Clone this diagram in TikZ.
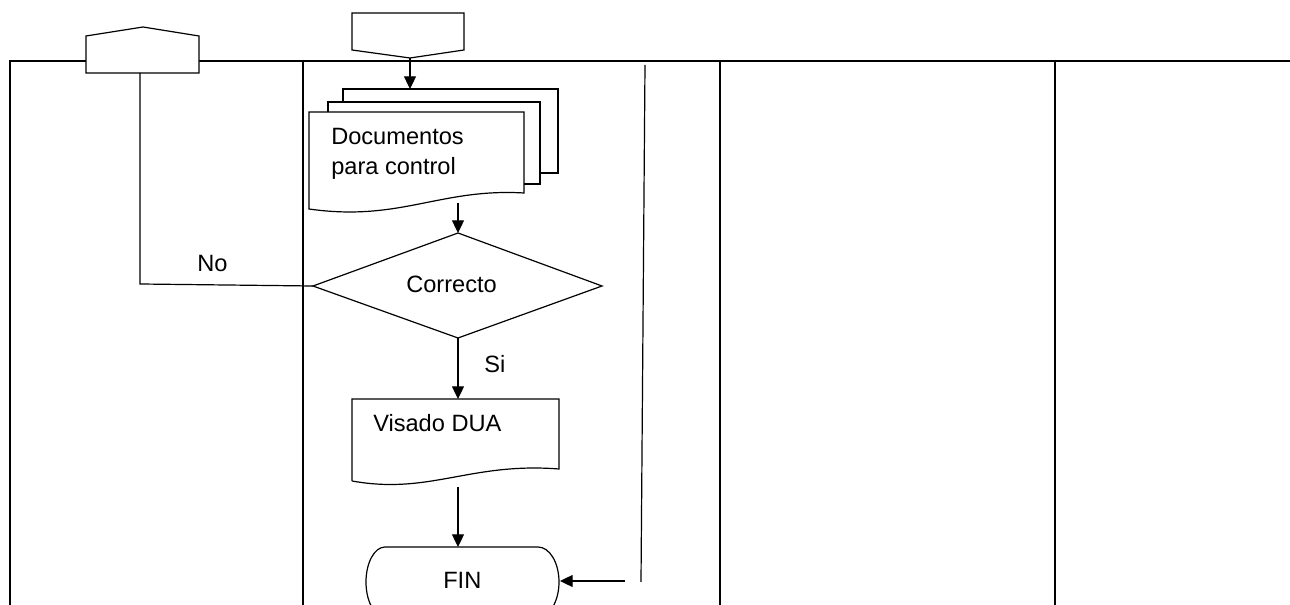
\documentclass[tikz,border=0pt]{standalone}
\usepackage{fontspec}
\setmainfont{Liberation Sans}
\usetikzlibrary{arrows.meta}
\begin{document}
\begin{tikzpicture}[x=0.75pt,y=-0.75pt,
  line/.style={line width=0.9pt,black},
  conn/.style={line width=0.9pt,-{Triangle[length=9.5pt,width=9pt]}},
  lbl/.style={anchor=base west,inner sep=0pt,font=\fontsize{17.7}{22}\selectfont}]
\useasboundingbox (0,0) rectangle (1290,605);
\clip (0,0) rectangle (1290,605);
% lanes
\draw[line] (10,605) -- (10,61) -- (1290,61);
\draw[line] (303,61) -- (303,605);
\draw[line] (720,61) -- (720,605);
\draw[line] (1055,61) -- (1055,605);
% slanted line
\coordinate (slT) at (645,65);
\coordinate (slB) at (641,582);
\draw[line] (slT) -- (slB);
% off-page connector (up)
\draw[line,fill=white] (86,73) -- (86,36) -- (143,27) -- (199,36) -- (199,73) -- cycle;
\coordinate (hexB) at (140,73);
% off-page connector (down)
\draw[line,fill=white] (352,13) -- (464,13) -- (464,50) -- (410,58) -- (352,50) -- cycle;
\coordinate (penB) at (410,58);
% document stack
\draw[line,fill=white] (343,102) -- (343,89) -- (558,89) -- (558,173) -- (540,173);
\draw[line,fill=white] (328,112) -- (328,102) -- (540,102) -- (540,184) -- (524,184);
\draw[line,fill=white] (309,209) -- (309,112) -- (524,112) -- (524,193)
  .. controls (440,188) and (400,222) .. (309,209) -- cycle;
\coordinate (stackT) at (410,89);
\coordinate (docB) at (458,203);
\node[lbl] (doc1) at (331,145) {Documentos};
\node[lbl] (doc2) at (331,175) {para control};
% decision
\draw[line] (458,233) -- (602,286) -- (458,338) -- (313,286) -- cycle;
\coordinate (decT) at (458,233);
\coordinate (decB) at (458,338);
\coordinate (decL) at (313,286);
\node[lbl] (dec) at (406,293) {Correcto};
% Visado DUA
\draw[line] (352,481) -- (352,399) -- (559,399) -- (559,469)
  .. controls (470,462) and (430,495) .. (352,481);
\coordinate (visT) at (458,399);
\coordinate (visB) at (458,487);
\node[lbl] (vis) at (373,432) {Visado DUA};
% FIN
\draw[line] (385,547) -- (538,547) arc[start angle=-90,end angle=90,x radius=21,y radius=35]
  -- (385,617) arc[start angle=90,end angle=270,x radius=19,y radius=35];
\coordinate (finT) at (458,547);
\coordinate (finR) at (560,581);
\node[lbl] (fin) at (443,589) {FIN};
% connectors
\draw[conn] (penB) -- (stackT);
\draw[conn] (docB) -- (decT);
\draw[conn] (decB) -- (visT);
\draw[conn] (visB) -- (finT);
\coordinate (arrS) at (625,581);
\draw[conn] (arrS) -- (finR);
\coordinate (noC) at (140,284);
\draw[line] (hexB) -- (noC) -- (decL);
\node[lbl] (no) at (197,272) {No};
\node[lbl] (si) at (484,373) {Si};
\end{tikzpicture}
\end{document}
